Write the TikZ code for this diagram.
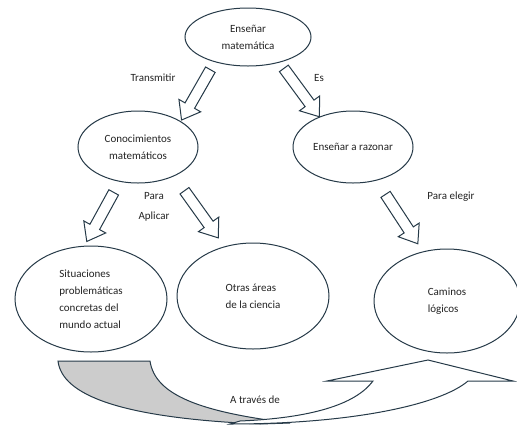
\documentclass[tikz,border=0pt]{standalone}
\usepackage{fontspec}
\setmainfont{Carlito}
\usetikzlibrary{positioning,shapes.geometric,shapes.arrows}

\definecolor{edgeblue}{RGB}{38,58,72}
\definecolor{txt}{RGB}{35,35,35}

\begin{document}
\begin{tikzpicture}[x=1pt,y=-1pt,
  every node/.style={font=\fontsize{11}{17}\selectfont,text=txt},
  idea/.style={ellipse,draw=edgeblue,line width=1pt,fill=white,inner sep=0pt,align=center},
  lab/.style={inner sep=0pt},
  barrow/.style={single arrow,draw=edgeblue,line width=1pt,fill=white,inner xsep=0pt,inner ysep=5pt,
    single arrow head extend=7pt,single arrow tip angle=74,sloped,allow upside down,minimum height=#1},
  barrow/.default=58pt,
  back/.style={draw=edgeblue,line width=1pt,fill=gray!40},
  front/.style={draw=edgeblue,line width=1pt,fill=white}]
  \useasboundingbox (0,0) rectangle (517,424);
  \node[idea,minimum width=126pt,minimum height=58pt] (ens) at (248,37) {Enseñar\\matemática};
  \node[idea,minimum width=120pt,minimum height=72pt,below=44pt of ens,xshift=-110pt] (con) {Conocimientos\\matemáticos};
  \node[idea,minimum width=120pt,minimum height=72pt,below=44pt of ens,xshift=105pt] (raz) {Enseñar a razonar};
  \node[idea,align=left,minimum width=152pt,minimum height=106pt,below=62pt of con,xshift=-47pt] (sit)
    {Situaciones\\problemáticas\\concretas del\\mundo actual};
  \node[idea,align=left,minimum width=152pt,minimum height=106pt,right=9pt of sit,yshift=3pt] (otr) {Otras áreas\\de la ciencia};
  \node[idea,align=left,minimum width=146pt,minimum height=104pt,right=44pt of otr,yshift=-5pt] (cam) {Caminos\\lógicos};
  % hollow block arrows, laid along the line between two border points
  \path (ens.217) -- node[barrow=58pt] {} (con.31);
  \path (ens.321) -- node[barrow=60pt] {} (raz.138);
  \path (con.242) -- node[barrow=56pt] {} (sit.97);
  \path (con.321) -- node[barrow=58pt] {} (otr.120);
  \path (raz.305) -- node[barrow=59pt] {} (cam.116);
  \node[lab] (ltr) at (153,78) {Transmitir};
  \node[lab] (les) at (319,78) {Es};
  \node[lab,align=center] (lpa) at (154,207) {Para\\[3pt]Aplicar};
  \node[lab] (lel) at (451,197) {Para elegir};
  % curved band along the bottom: grey back part, then white front with its head
  \draw[back] (58,361) -- (150,361) .. controls (155,395) and (200,412) .. (290,423)
    -- (260,424) .. controls (120,418) and (62,395) .. (58,361) -- cycle;
  \draw[front] (373,381) .. controls (355,405) and (310,418) .. (240,421)
    -- (230,424) .. controls (350,424) and (440,405) .. (468,381)
    -- (513,381) -- (428,360) -- (327,381) -- cycle;
  \node[lab] (lat) at (255,400) {A través de};
\end{tikzpicture}
\end{document}
